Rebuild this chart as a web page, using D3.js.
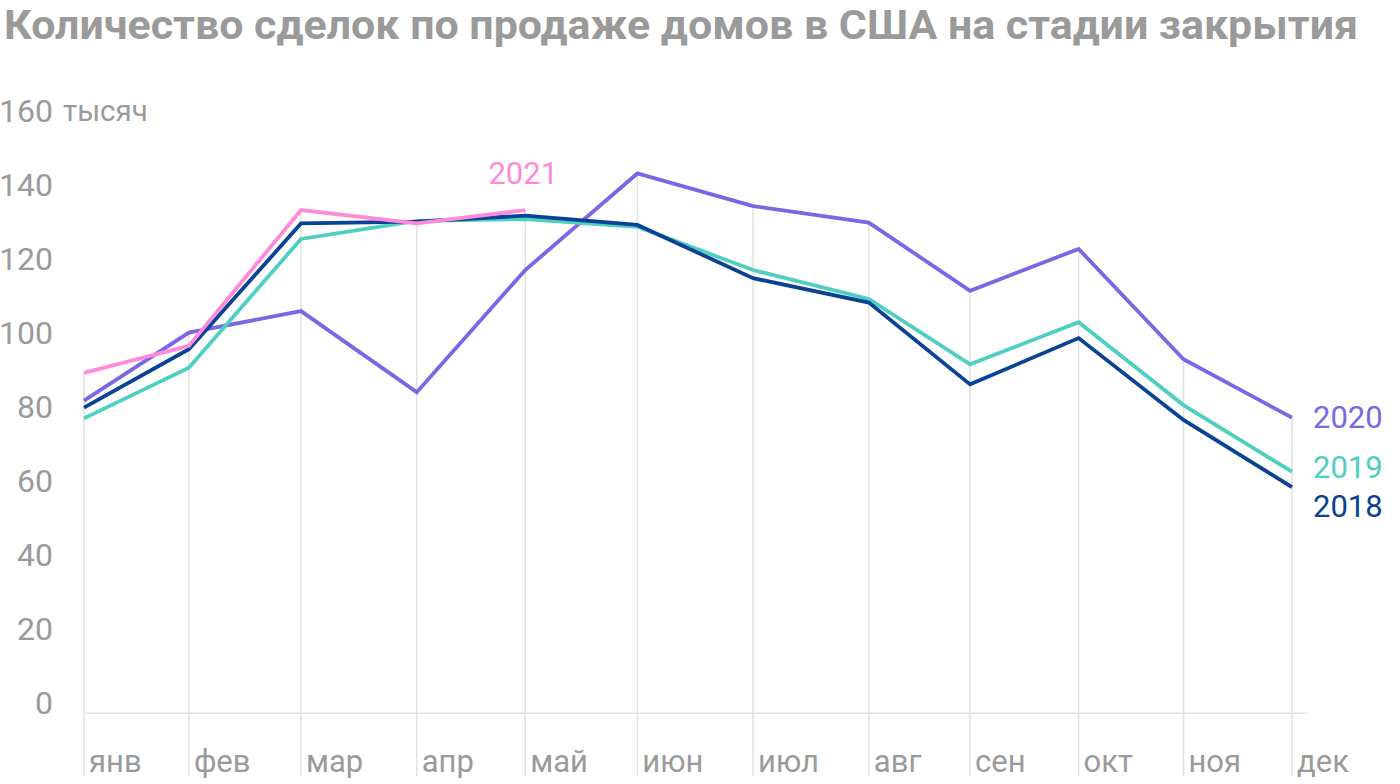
<!DOCTYPE html>
<html>
<head>
<meta charset="utf-8">
<script src="https://cdn.jsdelivr.net/npm/d3@7"></script>
<style>
  html, body { margin: 0; padding: 0; background: #fff; }
  svg { display: block; font-family: Roboto, "Noto Sans", sans-serif; }
</style>
</head>
<body>
<svg id="chart" width="1400" height="784"></svg>
<script>
// ---- data ----
const title = "Количество сделок по продаже домов в США на стадии закрытия";
const months = ["янв","фев","мар","апр","май","июн","июл","авг","сен","окт","ноя","дек"];
// observation dates of the monthly points (as placed in the source chart)
const dates = ["2021-01-01","2021-01-30","2021-03-02","2021-04-03","2021-05-03","2021-06-03",
               "2021-07-05","2021-08-06","2021-09-03","2021-10-03","2021-11-01","2021-12-01"];
const values2018 = [82.6, 98.4, 132.4, 132.9, 134.5, 132.0, 117.6, 111.0, 88.9, 101.4, 79.3, 61.1];
const values2019 = [79.7, 93.4, 128.2, 133.1, 133.6, 131.5, 119.8, 112.0, 94.3, 105.7, 83.3, 65.3];
const values2020 = [84.5, 102.9, 108.7, 86.8, 119.8, 145.9, 137.1, 132.6, 114.2, 125.5, 95.7, 79.9];
const values2021 = [92.0, 99.3, 136.0, 132.4, 136.0];
const yTicks = [0, 20, 40, 60, 80, 100, 120, 140, 160];
const yUnit = "тысяч";

// ---- setup ----
const svg = d3.select("#chart");
const parse = d3.timeParse("%Y-%m-%d");
const xDates = dates.map(parse);

const x = d3.scaleTime().domain([xDates[0], xDates[xDates.length - 1]]).range([84, 1292]);
const y = d3.scaleLinear().domain([0, 160]).range([713.3, 121.3]);

const series = [
  { name: "2020", values: values2020, color: "#7b66e6", lx: 21, ly: 10, anchor: "start" },
  { name: "2019", values: values2019, color: "#4fcfc2", lx: 21, ly: 6, anchor: "start" },
  { name: "2018", values: values2018, color: "#0a4296", lx: 21, ly: 30, anchor: "start" },
  { name: "2021", values: values2021, color: "#ff8ad9", lx: -2, ly: -26, anchor: "middle" }
];

// title
svg.append("text")
  .attr("x", 4).attr("y", 39)
  .attr("font-size", 41).attr("font-weight", 700)
  .attr("fill", "#9a9a9a")
  .attr("textLength", 1354)
  .attr("lengthAdjust", "spacingAndGlyphs")
  .text(title);

// vertical grid lines from the highest point of each month down
const grid = svg.append("g");
months.forEach((m, i) => {
  const top = d3.max(series, s => s.values[i] !== undefined ? s.values[i] : -Infinity);
  grid.append("line")
    .attr("x1", x(xDates[i])).attr("x2", x(xDates[i]))
    .attr("y1", y(top)).attr("y2", 776)
    .attr("stroke", "#e3e3e3").attr("stroke-width", 1.6);
});

// baseline
svg.append("line")
  .attr("x1", 84).attr("x2", 1308)
  .attr("y1", y(0)).attr("y2", y(0))
  .attr("stroke", "#e3e3e3").attr("stroke-width", 1.6);

// y axis
const yAxis = svg.append("g")
  .attr("transform", "translate(53,0)")
  .call(d3.axisLeft(y).tickValues(yTicks).tickSize(0).tickPadding(0));
yAxis.select(".domain").remove();
yAxis.selectAll("text")
  .attr("dy", 0)
  .attr("font-size", 32)
  .attr("font-family", "Roboto, 'Noto Sans', sans-serif")
  .attr("fill", "#9a9a9a");
svg.append("text")
  .attr("x", 63).attr("y", y(160))
  .attr("font-size", 29.5).attr("fill", "#9a9a9a")
  .text(yUnit);

// x labels
svg.append("g").selectAll("text")
  .data(months)
  .join("text")
  .attr("x", (d, i) => x(xDates[i]) + 5)
  .attr("y", 772)
  .attr("font-size", 31)
  .attr("fill", "#9a9a9a")
  .text(d => d);

// lines
const line = d3.line()
  .x((d, i) => x(xDates[i]))
  .y(d => y(d));

const drawOrder = ["2020", "2019", "2018", "2021"];
drawOrder.forEach(n => {
  const s = series.find(t => t.name === n);
  svg.append("path")
    .datum(s.values)
    .attr("fill", "none")
    .attr("stroke", s.color)
    .attr("stroke-width", 3.8)
    .attr("stroke-linejoin", "miter")
    .attr("d", line);
});

// series labels
series.forEach(s => {
  const i = s.values.length - 1;
  svg.append("text")
    .attr("x", x(xDates[i]) + s.lx)
    .attr("y", y(s.values[i]) + s.ly)
    .attr("text-anchor", s.anchor)
    .attr("font-size", 31)
    .attr("fill", s.color)
    .text(s.name);
});
</script>
</body>
</html>
